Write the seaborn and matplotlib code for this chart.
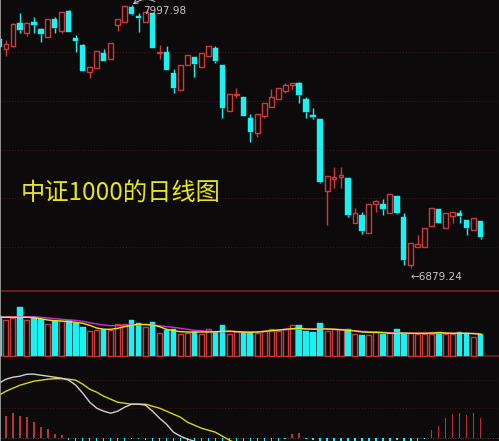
import matplotlib
matplotlib.use("Agg")
import matplotlib.pyplot as plt
from matplotlib.lines import Line2D
import numpy as np
import pandas as pd
import seaborn as sns

# ── Data ──────────────────────────────────────────────────────────────

opens = [
    7853.4, 7810.8, 7823.6, 7921.4, 7878.9, 7925.7, 7895.9, 7861.9, 7938.4, 7887.4,
    7972.5, 7857.6, 7827.8, 7713.0, 7730.0, 7793.8, 7768.3, 7912.9, 7925.7, 7989.5,
    7951.2, 7925.7, 7964.0, 7793.8, 7798.1, 7708.7, 7636.4, 7742.8, 7776.8, 7734.3,
    7781.0, 7815.1, 7742.8, 7547.1, 7615.2, 7606.6, 7517.3, 7453.5, 7525.8, 7564.1,
    7598.1, 7632.2, 7657.7, 7666.2, 7598.1, 7530.1, 7513.1, 7206.8, 7257.8, 7266.4,
    7262.1, 7070.7, 7104.7, 7028.1, 7151.5, 7151.5, 7113.2, 7185.5, 7096.2, 6892.0,
    6968.6, 6968.6, 7057.9, 7130.2, 7049.4, 7100.5, 7113.2, 7083.4, 7040.9, 7079.2,
]
highs = [
    7861.9, 7849.1, 7921.4, 7964.0, 7925.7, 7946.9, 7900.2, 7938.4, 7946.9, 7968.2,
    7976.7, 7870.4, 7832.1, 7738.5, 7802.3, 7810.8, 7836.3, 7938.4, 7993.7, 7997.98,
    7964.0, 7972.5, 7964.0, 7827.8, 7823.6, 7725.7, 7742.8, 7785.3, 7776.8, 7793.8,
    7823.6, 7823.6, 7742.8, 7619.4, 7644.9, 7606.6, 7534.3, 7534.3, 7581.1, 7640.7,
    7644.9, 7666.2, 7666.2, 7670.5, 7606.6, 7559.9, 7513.1, 7270.6, 7308.9, 7308.9,
    7262.1, 7134.5, 7117.5, 7151.5, 7168.5, 7172.8, 7194.0, 7185.5, 7113.2, 6985.6,
    7019.6, 7049.4, 7134.5, 7130.2, 7113.2, 7117.5, 7126.0, 7083.4, 7091.9, 7079.2,
]
lows = [
    7815.1, 7781.0, 7819.3, 7878.9, 7866.1, 7878.9, 7840.6, 7861.9, 7878.9, 7878.9,
    7883.1, 7798.1, 7717.2, 7687.5, 7730.0, 7759.8, 7768.3, 7887.4, 7925.7, 7955.4,
    7883.1, 7925.7, 7815.1, 7768.3, 7721.5, 7623.7, 7636.4, 7742.8, 7691.7, 7734.3,
    7781.0, 7751.3, 7517.3, 7547.1, 7602.4, 7525.8, 7415.2, 7436.5, 7517.3, 7564.1,
    7598.1, 7623.7, 7640.7, 7581.1, 7517.3, 7513.1, 7240.8, 7062.2, 7219.6, 7219.6,
    7096.2, 7070.7, 7023.9, 7028.1, 7117.5, 7104.7, 7113.2, 7109.0, 6892.0, 6879.24,
    6968.6, 6968.6, 7057.9, 7070.7, 7049.4, 7070.7, 7070.7, 7019.6, 7040.9, 7002.6,
]
closes = [
    7819.3, 7832.1, 7917.2, 7891.6, 7921.4, 7912.9, 7874.6, 7938.4, 7900.2, 7968.2,
    7883.1, 7844.9, 7717.2, 7734.3, 7802.3, 7759.8, 7836.3, 7938.4, 7993.7, 7959.7,
    7942.7, 7968.2, 7815.1, 7798.1, 7721.5, 7644.9, 7742.8, 7785.3, 7747.0, 7793.8,
    7823.6, 7759.8, 7559.9, 7619.4, 7619.4, 7525.8, 7457.8, 7534.3, 7581.1, 7606.6,
    7644.9, 7657.7, 7666.2, 7615.2, 7542.8, 7521.6, 7245.1, 7270.6, 7266.4, 7274.9,
    7104.7, 7113.2, 7036.7, 7151.5, 7164.3, 7130.2, 7194.0, 7113.2, 6913.3, 6985.6,
    6981.4, 7049.4, 7134.5, 7070.7, 7113.2, 7117.5, 7100.5, 7049.4, 7091.9, 7011.1,
]

volume = [
    2000, 1800, 1900, 2450, 1800, 1950, 1850, 1600, 1750, 1750,
    1800, 1650, 1450, 1250, 1300, 1350, 1300, 1600, 1600, 1800,
    1650, 1450, 1700, 1150, 1300, 1350, 1100, 1150, 1200, 1100,
    1350, 1200, 1550, 1100, 1250, 1200, 1200, 1150, 1250, 1350,
    1250, 1350, 1550, 1550, 1250, 1200, 1650, 1250, 1350, 1350,
    1350, 1100, 1050, 1050, 1200, 1100, 1150, 1350, 1150, 1150,
    1100, 1100, 1100, 1200, 1100, 1100, 1200, 1150, 950, 1100,
]
vol_ma5 = [
    1935, 1935, 1935, 1935, 1935, 1915, 1865, 1800, 1765, 1750,
    1715, 1685, 1635, 1535, 1400, 1335, 1335, 1385, 1465, 1535,
    1585, 1565, 1550, 1465, 1335, 1265, 1215, 1200, 1200, 1200,
    1200, 1215, 1235, 1250, 1215, 1200, 1185, 1200, 1235, 1265,
    1300, 1335, 1365, 1385, 1350, 1335, 1350, 1350, 1335, 1315,
    1285, 1250, 1200, 1185, 1185, 1165, 1135, 1135, 1150, 1135,
    1135, 1135, 1150, 1165, 1150, 1135, 1135, 1135, 1115, 1085,
]
vol_ma10 = [
    1965, 1965, 1965, 1965, 1965, 1965, 1935, 1900, 1865, 1835,
    1800, 1785, 1735, 1665, 1600, 1550, 1515, 1515, 1535, 1550,
    1565, 1585, 1565, 1515, 1465, 1435, 1385, 1335, 1285, 1265,
    1235, 1215, 1215, 1215, 1215, 1200, 1200, 1200, 1215, 1250,
    1285, 1315, 1350, 1365, 1350, 1350, 1365, 1350, 1335, 1315,
    1300, 1265, 1235, 1215, 1200, 1185, 1165, 1150, 1135, 1135,
    1135, 1135, 1135, 1135, 1135, 1135, 1135, 1135, 1135, 1115,
]

dif = [
    109, 117, 121, 123, 127, 127, 125, 123, 121, 119,
    115, 105, 89, 71, 59, 53, 49, 53, 61, 67,
    67, 65, 53, 39, 27, 11, 3, -3, -7, -11,
    -14, -16, -25, -30, -33, -38, -45, -47, -46, -44,
    -41, -38, -33.5, -32.5, -38, -39, -52, -60, -65, -68,
    -76, -80, -85, -85, -84, -83, -80, -78, -83, -83,
    -81, -78, -68, -62, -51, -43, -38, -37, -32, -34,
]
dea = [
    85, 93, 99, 105, 109, 113, 115, 117, 118, 118,
    117, 115, 107, 97, 91, 83, 77, 71, 69, 67,
    67, 67, 63, 59, 53, 47, 41, 31, 25, 19,
    15, 11, 3, -5, -11, -16, -22, -27, -31, -34,
    -36, -37, -37, -37, -37, -37, -40, -44, -48, -52,
    -57, -61, -66, -70, -73, -75, -76, -76, -77, -78,
    -78, -77, -76, -74, -71, -67, -63, -60, -57, -54,
]
macd_hist = [
    44, 43, 49, 43, 41, 31, 21, 17, 7, 5,
    -4, -20, -36, -52, -64, -60, -56, -36, -16, -2,
    -2, -4, -20, -40, -52, -72, -76, -68, -64, -60,
    -58, -54, -56, -50, -44, -44, -46, -40, -30, -20,
    -10, -2, 7, 9, -2, -4, -24, -32, -34, -32,
    -38, -38, -38, -30, -22, -16, -8, -4, -12, -10,
    -6, -2, 15, 23, 39, 47, 50, 45, 49, 39,
]

price_grid = [7798, 7591, 7383, 7176, 6969]
macd_grid = [115, 59]
title_text = "中证1000的日线图"

# ── Style ─────────────────────────────────────────────────────────────

BG = "#0c0a0a"
RED = "#d23a3a"
CYAN = "#19f2f2"
GRID = "#4e1616"
SEP = "#7a1c1c"
YELLOW = "#e6e61e"
MAGENTA = "#d42ad4"
LABEL = "#c8c8c8"

sns.set_theme(style="dark", rc={"axes.facecolor": BG, "figure.facecolor": BG})
plt.rcParams["font.family"] = ["Noto Sans CJK SC", "DejaVu Sans"]

W, H = 499, 441
fig = plt.figure(figsize=(W / 100, H / 100), dpi=100)
fig.patch.set_facecolor(BG)

ax_p = fig.add_axes([0, 1 - 291 / H, 1, 291 / H])
ax_v = fig.add_axes([0, 1 - 357 / H, 1, 66 / H])
ax_m = fig.add_axes([0, 0, 1, 84 / H])

df = pd.DataFrame({"open": opens, "high": highs, "low": lows, "close": closes,
                   "volume": volume})
df["idx"] = np.arange(len(df))
df["up"] = df["close"] >= df["open"]
df["top"] = df[["open", "close"]].max(axis=1)
df["bot"] = df[["open", "close"]].min(axis=1)

xlim = (1 / 6.98, 500 / 6.98)
p_lim = (6781.4, 8019.25)
px = (p_lim[1] - p_lim[0]) / 291  # price units per pixel

# ── Price panel ───────────────────────────────────────────────────────

for lvl in price_grid:
    ax_p.axhline(lvl, color=GRID, lw=0.7, ls=(0, (1, 2)), zorder=0)

colors = np.where(df["up"], RED, CYAN)
ax_p.vlines(df["idx"], df["top"], df["high"], colors=colors, lw=1.0, zorder=1)
ax_p.vlines(df["idx"], df["low"], df["bot"], colors=colors, lw=1.0, zorder=1)

height = np.maximum(df["top"] - df["bot"], px)
up = df[df["up"]]
dn = df[~df["up"]]
ax_p.bar(up["idx"], height[df["up"]], bottom=up["bot"], width=0.7,
         facecolor=BG, edgecolor=RED, linewidth=1.0, zorder=2)
ax_p.bar(dn["idx"], height[~df["up"]], bottom=dn["bot"], width=0.76,
         color=CYAN, edgecolor=CYAN, linewidth=0.3, zorder=2)

i_hi = int(np.argmax(highs))
ax_p.annotate(f"{highs[i_hi]:.2f}", xy=(i_hi, highs[i_hi]), xytext=(8, -4),
              textcoords="offset points", ha="left", va="center",
              fontsize=7.5, color=LABEL, family="DejaVu Sans",
              arrowprops=dict(arrowstyle="->", color=LABEL, lw=0.7,
                              connectionstyle="arc3,rad=0.5",
                              shrinkA=1, shrinkB=1))
i_lo = int(np.argmin(lows))
ax_p.annotate(f"←{lows[i_lo]:.2f}", xy=(i_lo, lows[i_lo]), xytext=(-0.5, -3),
              textcoords="offset points", ha="left", va="top",
              fontsize=7.5, color=LABEL, family="DejaVu Sans")

ax_p.text(20.7 / W, 1 - 193 / 291, title_text, transform=ax_p.transAxes,
          ha="left", va="center", fontsize=17.5, color=YELLOW,
          family=["Noto Sans CJK SC", "DejaVu Sans"])

ax_p.set_xlim(*xlim)
ax_p.set_ylim(*p_lim)

# ── Volume panel ──────────────────────────────────────────────────────

ax_v.axhline(0, color=SEP, lw=1.2, zorder=0)
ax_v.bar(up["idx"], up["volume"], width=0.72, facecolor=BG, edgecolor=RED,
         linewidth=1.0, zorder=2)
ax_v.bar(dn["idx"], dn["volume"], width=0.8, color=CYAN, edgecolor=CYAN,
         linewidth=0.3, zorder=2)
sns.lineplot(x=df["idx"], y=vol_ma10, ax=ax_v, color=MAGENTA, lw=1.0, zorder=3)
sns.lineplot(x=df["idx"], y=vol_ma5, ax=ax_v, color=YELLOW, lw=1.0, zorder=4)
ax_v.set_xlim(*xlim)
ax_v.set_ylim(-50, 3250)

# ── MACD panel ────────────────────────────────────────────────────────

for lvl in macd_grid:
    ax_m.axhline(lvl, color=GRID, lw=0.7, ls=(0, (1, 2)), zorder=0)
ax_m.axhline(0, color="#606060", lw=0.6, ls=(0, (1, 2)), zorder=0)
hist = np.array(macd_hist, dtype=float)
hist_colors = np.where(hist > 0, "#b83434", CYAN)
ax_m.bar(df["idx"], hist, width=0.2, color=hist_colors,
         edgecolor="none", linewidth=0, zorder=1)
sns.lineplot(x=df["idx"], y=dea, ax=ax_m, color="#d6d61a", lw=1.0, zorder=2)
sns.lineplot(x=df["idx"], y=dif, ax=ax_m, color="#d0d0d8", lw=1.0, zorder=3)
ax_m.set_xlim(*xlim)
ax_m.set_ylim(-6.6, 161.4)

for ax in (ax_p, ax_v, ax_m):
    ax.set_axis_off()

# separator and left border
fig.add_artist(Line2D([0, 1], [1 - 291 / H] * 2, transform=fig.transFigure,
                      color=SEP, lw=1.3))
fig.add_artist(Line2D([0.001, 0.001], [0, 1], transform=fig.transFigure,
                      color="#a8a8a8", lw=1.2))

fig.savefig("out.png", dpi=100, facecolor=BG)
